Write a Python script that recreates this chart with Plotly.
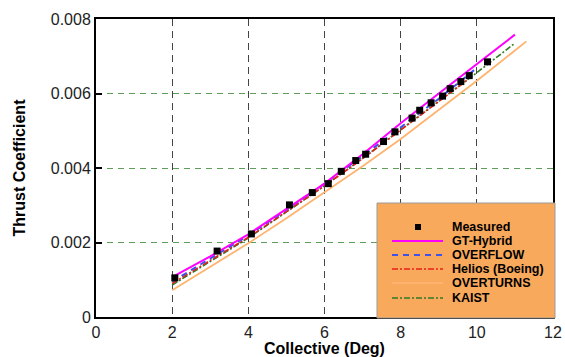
import plotly.graph_objects as go

# ---------------- data ----------------
measured_x = [2.07, 3.18, 4.08, 5.08, 5.68, 6.10, 6.44, 6.82, 7.08, 7.55, 7.85, 8.30, 8.50, 8.80, 9.10, 9.30, 9.58, 9.80, 10.28]
measured_y = [0.00105, 0.00177, 0.00223, 0.00301, 0.00334, 0.00358, 0.00391, 0.00420, 0.00437, 0.00471,
              0.00497, 0.00534, 0.00555, 0.00575, 0.00593, 0.00613, 0.00632, 0.00648, 0.00685]

gt_x = [2, 3, 4, 5, 6, 7, 8, 9, 10, 11]
gt_y = [0.00107, 0.00163, 0.00222, 0.00289, 0.00358, 0.00437, 0.00520, 0.00600, 0.00680, 0.00758]

overflow_x = [2, 3, 4, 5, 6, 7, 8, 9, 9.93]
overflow_y = [0.00095, 0.00157, 0.00219, 0.00288, 0.00358, 0.00432, 0.00509, 0.00586, 0.00663]

helios_x = [2, 3, 4, 5, 6, 7, 8, 9, 9.75]
helios_y = [0.00090, 0.00152, 0.00214, 0.00283, 0.00352, 0.00425, 0.00502, 0.00578, 0.00636]

overturns_x = [2, 3, 4, 5, 6, 7, 8, 9, 10, 11.3]
overturns_y = [0.00072, 0.00134, 0.00198, 0.00265, 0.00335, 0.00405, 0.00478, 0.00555, 0.00634, 0.00740]

kaist_x = [2, 3, 4, 5, 6, 7, 8, 9, 10, 11]
kaist_y = [0.00086, 0.00148, 0.00212, 0.00282, 0.00352, 0.00426, 0.00503, 0.00578, 0.00656, 0.00735]

x_ticks = [0, 2, 4, 6, 8, 10, 12]
y_ticks = [0, 0.002, 0.004, 0.006, 0.008]
y_tick_text = ["0", "0.002", "0.004", "0.006", "0.008"]

legend_names = ["Measured", "GT-Hybrid", "OVERFLOW", "Helios (Boeing)", "OVERTURNS", "KAIST"]

# ---------------- styles ----------------
C_MAG = "#FF00FF"
C_BLUE = "#3F51E8"
C_RED = "#E8201A"
C_ORANGE = "#FFB36E"
C_GREEN = "#2F7A22"

styles = [
    None,
    dict(color=C_MAG, width=2, dash="solid"),
    dict(color=C_BLUE, width=2, dash="6px,5px"),
    dict(color=C_RED, width=1.6, dash="6px,2px,2px,2px"),
    dict(color=C_ORANGE, width=1.8, dash="solid"),
    dict(color=C_GREEN, width=1.6, dash="6px,2px,2px,2px"),
]

fig = go.Figure()

series = [
    (overturns_x, overturns_y, styles[4]),
    (kaist_x, kaist_y, styles[5]),
    (helios_x, helios_y, styles[3]),
    (overflow_x, overflow_y, styles[2]),
    (gt_x, gt_y, styles[1]),
]
for xs, ys, st in series:
    fig.add_trace(go.Scatter(x=xs, y=ys, mode="lines", line=st, showlegend=False, hoverinfo="skip"))

fig.add_trace(go.Scatter(x=measured_x, y=measured_y, mode="markers",
                         marker=dict(symbol="square", size=7, color="black"),
                         showlegend=False))

# ---------------- layout ----------------
L, R, T, B = 96, 553, 19, 317
W, H = 565, 357

def px(x):
    return (x - L) / (R - L)

def py(y):
    return (B - y) / (B - T)

shapes = []
annotations = []

# legend box
shapes.append(dict(type="rect", xref="paper", yref="paper",
                   x0=px(377), x1=px(555), y0=py(318), y1=py(203),
                   fillcolor="#F9A95C", line=dict(color="#9a9a9a", width=1), layer="above"))

row_y = [227, 241, 255, 269, 283, 298]
for i, name in enumerate(legend_names):
    yy = py(row_y[i])
    if i == 0:
        shapes.append(dict(type="rect", xref="paper", yref="paper",
                           x0=px(415), x1=px(421), y0=py(row_y[i] + 3), y1=py(row_y[i] - 3),
                           fillcolor="black", line=dict(width=0), layer="above"))
    else:
        shapes.append(dict(type="line", xref="paper", yref="paper",
                           x0=px(392), x1=px(443), y0=yy, y1=yy,
                           line=styles[i], layer="above"))
    annotations.append(dict(xref="paper", yref="paper", x=px(450), y=yy,
                            text=name, showarrow=False, xanchor="left", yanchor="middle",
                            font=dict(family="Liberation Sans, Arial", size=12.5, color="black", weight="bold")))

fig.update_layout(
    width=W, height=H,
    margin=dict(l=L, r=W - R, t=T, b=H - B),
    paper_bgcolor="white", plot_bgcolor="white",
    showlegend=False,
    font=dict(family="Liberation Sans, Arial", color="#222"),
    shapes=shapes,
    annotations=annotations,
    xaxis=dict(
        range=[0, 12], tickvals=x_ticks, ticks="", showline=True, linecolor="black", linewidth=2,
        mirror=True, showgrid=True, gridcolor="#444444", griddash="7px,5px", gridwidth=1,
        zeroline=False, tickfont=dict(size=16, color="#222"), automargin=False,
        title=dict(text="Collective (Deg)", font=dict(size=16, color="black", weight="bold"), standoff=2),
    ),
    yaxis=dict(
        range=[0, 0.008], tickvals=y_ticks, ticktext=y_tick_text, ticks="inside", ticklen=6,
        tickcolor="black", tickwidth=2, showline=True, linecolor="black", linewidth=2, mirror=True,
        showgrid=True, gridcolor="#5E9E5A", griddash="6px,5px", gridwidth=1, zeroline=False,
        tickfont=dict(size=16, color="#222"), automargin=False,
        title=dict(text="Thrust Coefficient", font=dict(size=16, color="black", weight="bold"), standoff=21),
    ),
)

fig.write_html("out.html", config={"displayModeBar": False},
               post_script="document.body.style.margin='0';document.body.style.overflow='hidden';")
